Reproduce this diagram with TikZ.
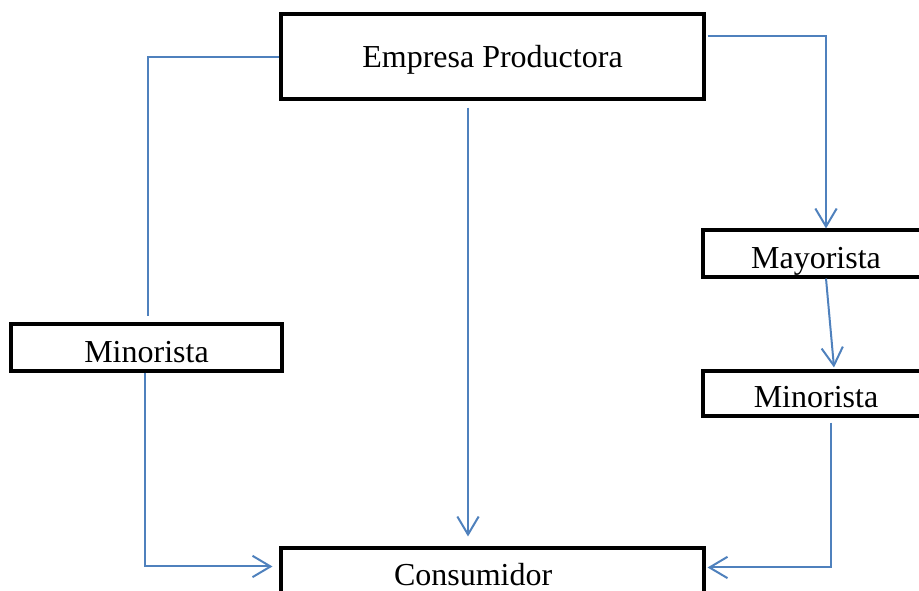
\documentclass[tikz,border=0pt]{standalone}
\usepackage{fontspec}
\setmainfont{Liberation Serif}
\usetikzlibrary{positioning,arrows.meta,calc}
\definecolor{linea}{HTML}{4F81BD}
\tikzset{
  caja/.style ={draw=black, line width=2.3pt, inner sep=0pt, anchor=base, font=\fontsize{24}{28}\selectfont},
  cajaw/.style={caja, minimum width=317.25pt},
  cajan/.style={caja, minimum width=169.5pt},
  ln/.style   ={draw=linea, line width=1.5pt},
  lna/.style  ={ln, -{Straight Barb[length=13.5pt,width=16pt]}},
}

\begin{document}
\begin{tikzpicture}[x=0.75pt,y=-0.75pt]
    \useasboundingbox (0,0) rectangle (919,590);
    \clip (0,0) rectangle (919,590);

    \node[cajaw,text height=39.75pt,text depth=24pt] (emp) at (492.5,67) {Empresa Productora};
    \node[caja,minimum width=203.25pt,text height=28.5pt,text depth=6.75pt] (minl) at (146.5,362) {Minorista};
    \node[cajan,text height=28.5pt,text depth=6.75pt] (may) at (816,268) {Mayorista};
    \node[cajan,text height=27pt,text depth=6.75pt] (minr) at (816,407) {Minorista};
    \node[cajaw,text height=27.75pt,text depth=25.5pt] (con) at (492.5,585) {Consumidor\hspace*{29pt}};

    \draw[ln]  (emp.west) -| ($(minl.north)+(1.5,-6)$);
    \draw[lna] ($(emp.east)+(2,-20.5)$) -| ($(may.north)+(10,0)$);
    \draw[lna] ($(may.south)+(10,0)$) -- ($(minr.north)+(18,-2)$);
    \draw[lna] ($(emp.south)+(-24.5,7)$) -- ($(con.north)+(-24.5,-10)$);
    \draw[lna] ($(minl.south)+(-1.5,0)$) |- ($(con.north west)+(-7,20)$);
    \draw[lna] ($(minr.south)+(15,5)$) |- ($(con.north east)+(2,21)$);
  \end{tikzpicture}
\end{document}
